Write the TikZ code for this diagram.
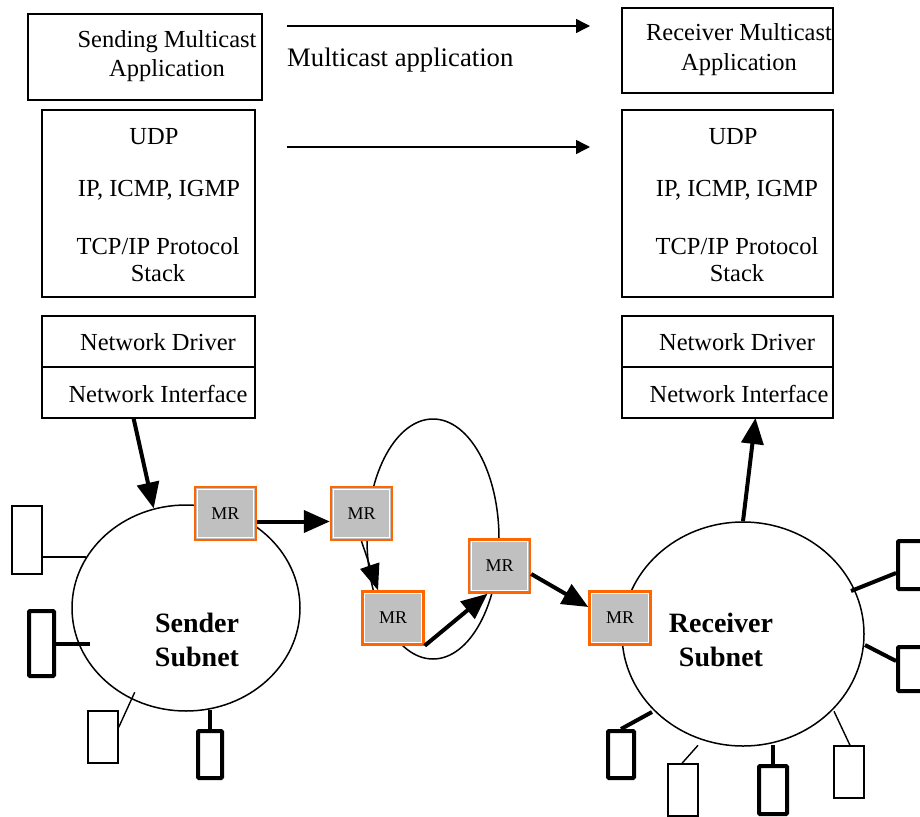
\documentclass[tikz,border=0pt]{standalone}
\usepackage{fontspec}
\setmainfont{Liberation Serif}
\usetikzlibrary{arrows.meta,shapes.geometric,calc}
\definecolor{mrorange}{HTML}{FF6600}
\definecolor{mrgray}{HTML}{C0C0C0}
\tikzset{
  box/.style={draw,line width=1.4pt,inner sep=0pt,outer sep=0pt},
  txt/.style={inner sep=0pt,align=center,font=\fontsize{24.5}{29}\selectfont},
  mrbox/.style={draw=mrorange,fill=mrgray,line width=2.4pt,minimum width=61pt,minimum height=53pt,inner sep=0pt,
    font=\fontsize{18}{20}\selectfont,
    path picture={\draw[white,line width=0.8pt] ([shift={(2.2pt,2.2pt)}]path picture bounding box.south west) rectangle ([shift={(-2.2pt,-2.2pt)}]path picture bounding box.north east);}},
  net/.style={draw,ellipse,line width=1.5pt,inner sep=0pt},
  nettxt/.style={inner sep=0pt,align=center,font=\fontsize{28}{34}\selectfont\bfseries},
  devthin/.style={draw,line width=1.4pt,minimum width=30pt,inner sep=0pt},
  devthick/.style={draw,line width=4pt,rounded corners=1pt,inner sep=0pt},
  thinstub/.style={line width=1.4pt},
  thickstub/.style={line width=4pt},
  toparrow/.style={line width=1.4pt,-{Triangle[length=14pt,width=14pt]}},
  bigarrow/.style={line width=4pt,-{Triangle[length=26pt,width=22pt]}},
  medarrow/.style={line width=1.5pt,-{Triangle[length=26pt,width=20pt]}},
}
\begin{document}
\begin{tikzpicture}[x=1pt,y=-1pt]
\useasboundingbox (0,0) rectangle (920,816);
\fill[white] (0,0) rectangle (920,816);

% application boxes
\node[box,minimum width=234pt,minimum height=86pt] (sapp) at (145,57) {};
\node[txt] (sapptxt) at (167,56) {Sending Multicast\\Application};
\node[box,minimum width=211pt,minimum height=85pt] (rapp) at (727.5,50.5) {};
\node[txt,font=\fontsize{24.5}{30}\selectfont] (rapptxt) at (739,50) {Receiver Multicast\\Application};

% top arrows
\coordinate (a1s) at (287,26);
\coordinate (a1e) at (590,26);
\coordinate (a2s) at (287,147);
\coordinate (a2e) at (590,147);
\draw[toparrow] (a1s) -- (a1e);
\draw[toparrow] (a2s) -- (a2e);
\node[inner sep=0pt,anchor=west,font=\fontsize{26.7}{30}\selectfont] (mcapp) at (287,60) {Multicast application};

% protocol stack boxes
\node[box,minimum width=213pt,minimum height=187pt] (sstk) at (148.5,203.5) {};
\node[txt] (sudp) at (154,137) {UDP};
\node[txt] (sip) at (159,190) {IP, ICMP, IGMP};
\node[txt,font=\fontsize{24.5}{27}\selectfont] (stcp) at (158,260) {TCP/IP Protocol\\Stack};
\node[box,minimum width=211pt,minimum height=187pt] (rstk) at (727.5,203.5) {};
\node[txt] (rudp) at (733,137) {UDP};
\node[txt] (rip) at (737,190) {IP, ICMP, IGMP};
\node[txt,font=\fontsize{24.5}{27}\selectfont] (rtcp) at (737,260) {TCP/IP Protocol\\Stack};

% driver / interface boxes
\node[box,minimum width=213pt,minimum height=51pt] (sdrv) at (148.5,341.5) {};
\node[box,minimum width=213pt,minimum height=51pt] (sni) at (148.5,392.5) {};
\node[txt] (sdrvtxt) at (158,342) {Network Driver};
\node[txt] (snitxt) at (158,394) {Network Interface};
\node[box,minimum width=211pt,minimum height=51pt] (rdrv) at (727.5,341.5) {};
\node[box,minimum width=211pt,minimum height=51pt] (rni) at (727.5,392.5) {};
\node[txt] (rdrvtxt) at (737,342) {Network Driver};
\node[txt] (rnitxt) at (739,394) {Network Interface};

% subnets
\node[net,minimum width=228pt,minimum height=206pt] (snet) at (186,608) {};
\node[nettxt] (snettxt) at (197,640) {Sender\\Subnet};
\node[net,minimum width=242pt,minimum height=224pt] (rnet) at (743,634) {};
\node[nettxt] (rnettxt) at (721,640) {Receiver\\Subnet};
\node[net,minimum width=132pt,minimum height=240pt] (loop) at (433,539) {};

% sender hosts
\node[devthin,minimum height=68pt] (ha) at (27,540) {};
\node[devthick,minimum width=25pt,minimum height=65pt] (hb) at (41.5,643.5) {};
\node[devthin,minimum height=52pt] (hc) at (103,737) {};
\node[devthick,minimum width=24pt,minimum height=47pt] (hd) at (210,754.5) {};
\draw[thinstub] (snet.153) -- (snet.153 -| ha.east);
\draw[thickstub] (hb.east) -- ++(34,0);
\draw[thinstub] ($(hc.north east)+(0,17)$) -- ++(16,-35);
\draw[thickstub] (hd.north) -- ++(0,-19);

% receiver hosts
\node[devthick,minimum width=26pt,minimum height=48pt] (he) at (911,565) {};
\node[devthick,minimum width=26pt,minimum height=44pt] (hf) at (911,669) {};
\node[devthick,minimum width=26pt,minimum height=47pt] (hg) at (621,754.5) {};
\node[devthin,minimum height=52pt] (hh) at (683,790) {};
\node[devthick,minimum width=28pt,minimum height=48pt] (hi) at (773,790) {};
\node[devthin,minimum height=52pt] (hj) at (849,772) {};
\draw[thickstub] ($(he.west)+(0,8)$) -- ++(-45,18);
\draw[thickstub] ($(hf.west)+(0,-8)$) -- ++(-31,-16);
\draw[thickstub] (hg.north) -- ++(31,-17);
\draw[thinstub] ($(hh.north)+(-1,0)$) -- ++(16,-18);
\draw[thickstub] (hi.north) -- ++(0,-19);
\draw[thinstub] ($(hj.north)+(1,0)$) -- ++(-16,-34);

% multicast routers
\node[mrbox] (mr1) at (225.5,513.5) {MR};
\node[mrbox] (mr2) at (361.5,513.5) {MR};
\node[mrbox] (mr3) at (393,618) {MR};
\node[mrbox] (mr4) at (499.5,566) {MR};
\node[mrbox] (mr5) at (620,618) {MR};

% arrows
\draw[bigarrow] ($(sni.south)+(-15,0)$) -- (snet.108);
\draw[bigarrow] ($(mr1.east)+(0,8)$) -- ($(mr2.west)+(0,8)$);
\draw[medarrow] (mr2.south) -- ($(mr3.north)+(-15,0)$);
\draw[bigarrow] (mr3.south east) -- ($(mr4.south)+(-12,0)$);
\draw[bigarrow] ($(mr4.east)+(0,8)$) -- ($(mr5.west)+(0,-11)$);
\draw[bigarrow] (rnet.north) -- ($(rni.south)+(28,0)$);
\end{tikzpicture}
\end{document}
